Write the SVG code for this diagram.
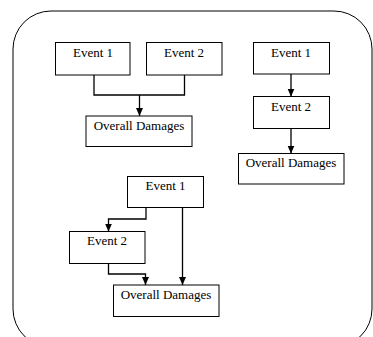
<svg xmlns="http://www.w3.org/2000/svg" width="373" height="337" viewBox="0 0 373 337">
<style>
.box{fill:#fff;stroke:#000;stroke-width:1}
.lbl{font-family:'Liberation Serif','Times New Roman','DejaVu Serif',serif;font-size:13px;fill:#000;text-anchor:middle}
.c{fill:none;stroke:#000;stroke-width:1.3}
</style>
<defs>
<marker id="ah" viewBox="0 0 8 8" refX="8" refY="4" markerWidth="8" markerHeight="8" markerUnits="userSpaceOnUse" orient="auto">
<path d="M0,0.5 L8,4 L0,7.5 Z" fill="#000"/>
</marker>
</defs>
<rect x="0" y="0" width="373" height="337" fill="#fff"/>
<rect id="frame" x="13" y="11" width="359" height="336" rx="38" ry="38" fill="none" stroke="#000" stroke-width="1"/>
<g id="connectors">
<path class="c" d="M94,75 V95 H184.5 V75"/>
<path class="c" d="M139.5,95 V116" marker-end="url(#ah)"/>
<path class="c" d="M291,74 V96.5" marker-end="url(#ah)"/>
<path class="c" d="M291,128.5 V153.5" marker-end="url(#ah)"/>
<path class="c" d="M146,207.5 V219 H108.5 V231.5" marker-end="url(#ah)"/>
<path class="c" d="M108.5,263.5 V274 H145.5 V285" marker-end="url(#ah)"/>
<path class="c" d="M182.5,207.5 V285" marker-end="url(#ah)"/>
</g>
<g id="a-event1"><rect class="box" x="55.5" y="42.5" width="74.5" height="32.5"/><text class="lbl" font-family="Liberation Serif, serif" x="93" y="57">Event 1</text></g>
<g id="a-event2"><rect class="box" x="146.5" y="42.5" width="75.5" height="32.5"/><text class="lbl" font-family="Liberation Serif, serif" x="184" y="57">Event 2</text></g>
<g id="a-damages"><rect class="box" x="86" y="116" width="106" height="30.5"/><text class="lbl" font-family="Liberation Serif, serif" x="139" y="130">Overall Damages</text></g>
<g id="b-event1"><rect class="box" x="253.5" y="42.5" width="76" height="31.5"/><text class="lbl" font-family="Liberation Serif, serif" x="291" y="57">Event 1</text></g>
<g id="b-event2"><rect class="box" x="253.5" y="96.5" width="76" height="32"/><text class="lbl" font-family="Liberation Serif, serif" x="291" y="111">Event 2</text></g>
<g id="b-damages"><rect class="box" x="238.5" y="153.5" width="105.5" height="30.5"/><text class="lbl" font-family="Liberation Serif, serif" x="291" y="167">Overall Damages</text></g>
<g id="c-event1"><rect class="box" x="127.5" y="176.5" width="76" height="31"/><text class="lbl" font-family="Liberation Serif, serif" x="165.5" y="190">Event 1</text></g>
<g id="c-event2"><rect class="box" x="69.5" y="231.5" width="75.5" height="32"/><text class="lbl" font-family="Liberation Serif, serif" x="107" y="245">Event 2</text></g>
<g id="c-damages"><rect class="box" x="113.5" y="285" width="105.5" height="31.5"/><text class="lbl" font-family="Liberation Serif, serif" x="166" y="299">Overall Damages</text></g>
</svg>
